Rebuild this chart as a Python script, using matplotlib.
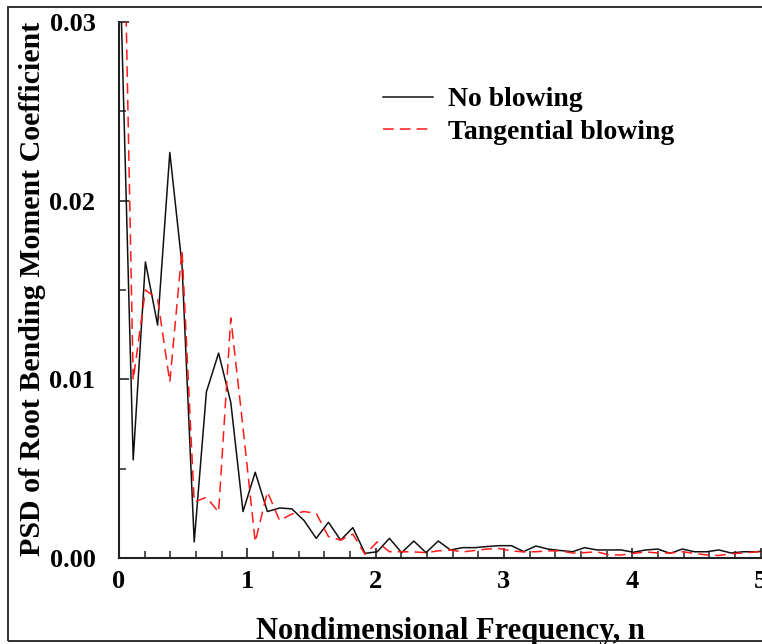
import numpy as np
import matplotlib
matplotlib.use("Agg")
import matplotlib.pyplot as plt
from matplotlib.patches import Rectangle
from matplotlib.ticker import MultipleLocator, FixedLocator

plt.rcParams['font.family'] = ['Liberation Serif', 'DejaVu Serif']
plt.rcParams['font.weight'] = 'bold'

# Frequency bins of the spectra (nondimensional frequency n)
f0 = 0.0156
df = 0.0951

# PSD of root bending moment coefficient, no blowing
psd_no_blowing = [
    0.0310, 0.00549, 0.01657, 0.01304, 0.02270, 0.01640, 0.00090, 0.00930,
    0.01147, 0.00870, 0.00260, 0.00480, 0.00260, 0.00280, 0.00275, 0.00210,
    0.00110, 0.00200, 0.00100, 0.00170, 0.00026, 0.00035, 0.00110, 0.00030,
    0.00095, 0.00030, 0.00095, 0.00045, 0.00058, 0.00058, 0.00064, 0.00069,
    0.00069, 0.00036, 0.00067, 0.00050, 0.00042, 0.00035, 0.00058, 0.00045,
    0.00045, 0.00045, 0.00032, 0.00045, 0.00050, 0.00026, 0.00050, 0.00035,
    0.00035, 0.00045, 0.00028, 0.00035, 0.00035, 0.00040,
]

# PSD of root bending moment coefficient, tangential blowing
psd_tangential = [
    0.0450, 0.00996, 0.01500, 0.01450, 0.00985, 0.01724, 0.00313, 0.00340,
    0.00257, 0.01343, 0.00730, 0.00090, 0.00370, 0.00210, 0.00246, 0.00260,
    0.00250, 0.00120, 0.00100, 0.00134, 0.00020, 0.00090, 0.00035, 0.00035,
    0.00034, 0.00030, 0.00040, 0.00045, 0.00034, 0.00042, 0.00050, 0.00053,
    0.00040, 0.00034, 0.00035, 0.00040, 0.00040, 0.00028, 0.00030, 0.00035,
    0.00017, 0.00017, 0.00026, 0.00034, 0.00028, 0.00028, 0.00035, 0.00026,
    0.00017, 0.00014, 0.00024, 0.00028, 0.00034, 0.00035,
]

freq = f0 + df * np.arange(len(psd_no_blowing))

x_ticks = [0, 1, 2, 3, 4, 5]
x_tick_labels = ['0', '1', '2', '3', '4', '5']
y_ticks = [0.0, 0.01, 0.02, 0.03]
y_tick_labels = ['0.00', '0.01', '0.02', '0.03']

W, H = 762, 644
fig = plt.figure(figsize=(W / 100, H / 100), dpi=100)
fig.patch.set_facecolor('white')

# outer frame around the figure
fig.patches.append(Rectangle((8 / W, 3 / H), 1.0, (641 - 7) / H,
                             transform=fig.transFigure, fill=False,
                             edgecolor='#222222', linewidth=1.3))

ax = fig.add_axes([119 / W, (H - 558) / H, 641.5 / W, 536 / H])
ax.plot(freq, psd_no_blowing, color='#111111', lw=1.1, label='No blowing')
ax.plot(freq, psd_tangential, color='#ff1a1a', lw=1.1,
        linestyle=(0, (7, 4)), label='Tangential blowing')

ax.set_xlim(0, 5)
ax.set_ylim(0, 0.03)
ax.xaxis.set_major_locator(FixedLocator(x_ticks))
ax.set_xticklabels(x_tick_labels)
ax.xaxis.set_minor_locator(MultipleLocator(0.2))
ax.yaxis.set_major_locator(FixedLocator(y_ticks))
ax.set_yticklabels(y_tick_labels)
ax.yaxis.set_minor_locator(MultipleLocator(0.005))

for side in ('top', 'right'):
    ax.spines[side].set_visible(False)
for side in ('left', 'bottom'):
    ax.spines[side].set_linewidth(1.5)
    ax.spines[side].set_color('#222222')

ax.tick_params(which='major', direction='in', length=7, width=1.2,
               color='#222222', labelsize=19)
ax.tick_params(which='minor', direction='in', length=5, width=1.1,
               color='#222222')
ax.tick_params(axis='x', which='major', pad=9)
ax.tick_params(axis='y', which='major', pad=17)
for lbl in ax.get_xticklabels() + ax.get_yticklabels():
    lbl.set_fontweight('bold')

ax.set_xlabel('Nondimensional Frequency, n', fontsize=22, fontweight='bold')
ax.xaxis.set_label_coords((451 - 119) / 641.5, -(631 - 558) / 536)
ax.xaxis.label.set_va('center')
ax.set_ylabel('PSD of Root Bending Moment Coefficient', fontsize=21.5,
              fontweight='bold')
ax.yaxis.set_label_coords(-(119 - 33) / 641.5, (558 - 289) / 536)
ax.yaxis.label.set_va('center')

leg = ax.legend(loc='upper left', bbox_to_anchor=((383 - 119) / 641.5, (558 - 87) / 536),
                frameon=False, borderpad=0, borderaxespad=0,
                handlelength=1.8, handletextpad=0.55, labelspacing=0.25,
                prop={'family': 'Liberation Serif', 'weight': 'bold', 'size': 20})

fig.savefig('out.png', dpi=100)
